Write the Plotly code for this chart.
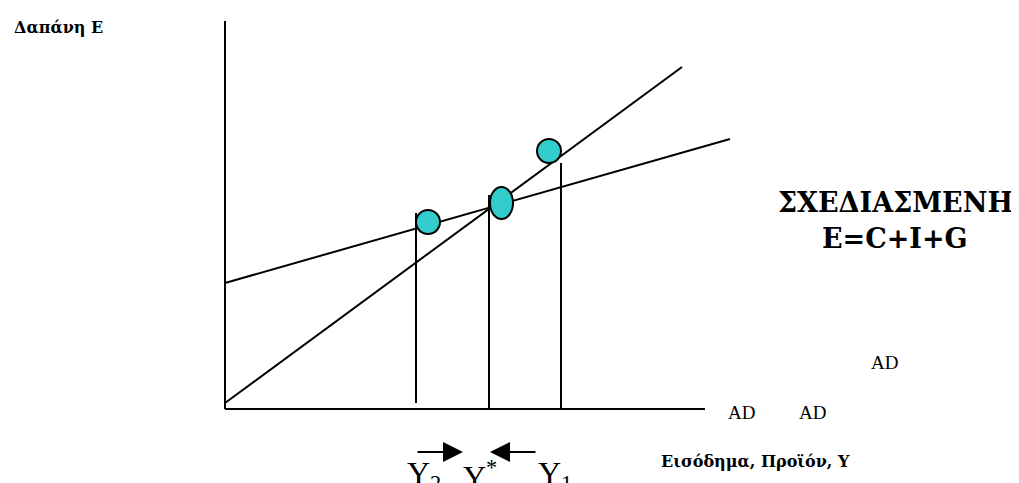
import plotly.graph_objects as go

# Σχήμα Κεϋνσιανού σταυρού (μονάδες = εικονοστοιχεία από την αρχή των αξόνων)
SERIF = "Liberation Serif"
SERIF_BOLD = "DejaVu Serif"
TURQ = "#33CCCC"

# άξονες
axis_x = [0, 480]
axis_y = [0, 388]

# γραμμή 45 μοιρών (Y = E)
diag_x = [0, 457]
diag_y = [6, 342]

# σχεδιασμένη δαπάνη AD
ad_x = [0, 505]
ad_y = [126, 270]

# επίπεδα εισοδήματος Y2, Y*, Y1
levels_x = [191, 264, 336]
levels_bottom = [6, 0, 0]
levels_top = [196, 214, 246]

# κύκλοι: κέντρο, ακτίνα x, ακτίνα y
circ_x = [203, 276.5, 324]
circ_y = [187, 206, 258]
circ_rx = [12, 11.5, 12]
circ_ry = [12, 16, 12]

fig = go.Figure()

line_style = dict(color="black", width=2)
fig.add_trace(go.Scatter(x=[axis_x[0], axis_x[0]], y=axis_y, mode="lines", line=line_style))
fig.add_trace(go.Scatter(x=axis_x, y=[0, 0], mode="lines", line=line_style))
fig.add_trace(go.Scatter(x=diag_x, y=diag_y, mode="lines", line=line_style))
fig.add_trace(go.Scatter(x=ad_x, y=ad_y, mode="lines", line=line_style))
for lx, b, t in zip(levels_x, levels_bottom, levels_top):
    fig.add_trace(go.Scatter(x=[lx, lx], y=[b, t], mode="lines", line=line_style))

for cx, cy, rx, ry in zip(circ_x, circ_y, circ_rx, circ_ry):
    fig.add_shape(type="circle", xref="x", yref="y",
                  x0=cx - rx, x1=cx + rx, y0=cy - ry, y1=cy + ry,
                  fillcolor=TURQ, line=dict(color="black", width=2))

# κείμενα
def txt(x, y, s, size, bold=False, xanchor="center"):
    fig.add_annotation(x=x, y=y, xref="x", yref="y", showarrow=False,
                       text=s, xanchor=xanchor,
                       font=dict(family=SERIF_BOLD if bold else SERIF, size=size,
                                 color="black", weight="bold" if bold else "normal"))

txt(-213, 382, "Δαπάνη Ε", 16, bold=True, xanchor="left")
txt(670, 207, "ΣΧΕΔΙΑΣΜΕΝΗ", 27, bold=True)
txt(670, 171, "E=C+I+G", 27, bold=True)
txt(659, 47, "AD", 19)
txt(516, -3, "AD", 19)
txt(587, -3, "AD", 19)
txt(530, -52, "Εισόδημα, Προϊόν, Υ", 16, bold=True)

txt(180, -66, "Y<sub>2</sub>", 32, xanchor="left")
txt(236, -66, "Y<sup>*</sup>", 32, xanchor="left")
txt(311, -66, "Y<sub>1</sub>", 32, xanchor="left")

# βέλη προσαρμογής
arrows = [(191, 238), (312, 265)]
for tail, head in arrows:
    fig.add_annotation(x=head, y=-43, ax=tail, ay=-43, xref="x", yref="y",
                       axref="x", ayref="y", text="", showarrow=True,
                       arrowhead=2, arrowsize=2, arrowwidth=2, arrowcolor="black")

# η σελίδα έχει περιθώριο 8px, οπότε το σχήμα μικραίνει ανάλογα
fig.update_layout(
    width=1011, height=475,
    margin=dict(l=0, r=0, t=0, b=0),
    paper_bgcolor="white", plot_bgcolor="white",
    showlegend=False,
    xaxis=dict(range=[-217, 794], visible=False, fixedrange=True),
    yaxis=dict(range=[-74, 401], visible=False, fixedrange=True),
)

fig.write_html("out.html")
